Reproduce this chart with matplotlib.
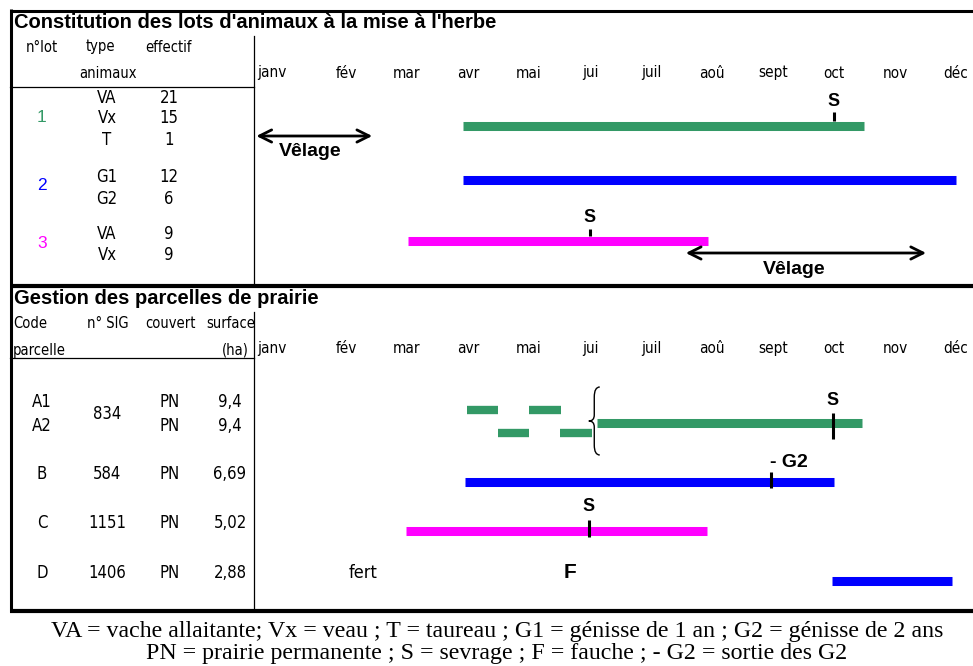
import matplotlib.pyplot as plt
from matplotlib.path import Path
from matplotlib.patches import PathPatch

# Data

months = ["janv", "fév", "mar", "avr", "mai", "jui", "juil", "aoû", "sept", "oct", "nov", "déc"]

# lots d'animaux
lot_ids = ["1", "2", "3"]
lot_colors = ["#339966", "#0000ff", "#ff00ff"]
lot_types = [["VA", "Vx", "T"], ["G1", "G2"], ["VA", "Vx"]]
lot_counts = [["21", "15", "1"], ["12", "6"], ["9", "9"]]
lot_start = [2.92, 2.92, 2.02]
lot_end = [9.49, 11.0, 6.93]
lot_sevrage = [9.0, None, 5.0]
velage = [(-0.47, 1.43), (6.57, 10.51)]

# parcelles
parc_codes = [["A1", "A2"], ["B"], ["C"], ["D"]]
parc_sig = ["834", "584", "1151", "1406"]
parc_couvert = [["PN", "PN"], ["PN"], ["PN"], ["PN"]]
parc_surface = [["9,4", "9,4"], ["6,69"], ["5,02"], ["2,88"]]
a1_dashes = [(2.98, 3.49), (4.0, 4.52)]
a2_dashes = [(3.49, 4.0), (4.51, 5.03)]
a_bar = (5.11, 9.46)
a_sevrage = 8.98
b_bar = (2.95, 9.0)
b_sortie_g2 = 7.97
c_bar = (1.98, 6.92)
c_sevrage = 4.98
d_bar = (8.97, 10.93)
d_fert = 1.28
d_fauche = 4.67

legend_lines = [
    "VA = vache allaitante; Vx = veau ; T = taureau ; G1 = génisse de 1 an ; G2 = génisse de 2 ans",
    "PN = prairie permanente ; S = sevrage ; F = fauche ; - G2 = sortie des G2",
]

NARROW = dict(family=["DejaVu Sans"], fontstretch="condensed")
BOLD = dict(family=["Liberation Sans", "DejaVu Sans"], fontweight="bold")
SERIF = dict(family=["Liberation Serif", "DejaVu Serif"])

W, H = 973, 666
fig = plt.figure(figsize=(W / 100, H / 100), dpi=100)

# background axes in pixel units for frame and tables
bg = fig.add_axes([0, 0, 1, 1])
bg.set_xlim(0, W)
bg.set_ylim(H, 0)
bg.axis("off")

bg.plot([10, W], [10.5, 10.5], color="black", lw=2.2, solid_capstyle="butt")
bg.plot([10, W], [286, 286], color="black", lw=3, solid_capstyle="butt")
bg.plot([10, W], [611, 611], color="black", lw=3, solid_capstyle="butt")
bg.plot([10.5, 10.5], [9, 612], color="black", lw=2.2, solid_capstyle="butt")
bg.plot([254, 254], [36, 285], color="black", lw=0.9)
bg.plot([254, 254], [312, 610], color="black", lw=0.9)
bg.plot([10, 254], [87, 87], color="black", lw=0.9)
bg.plot([10, 254], [358, 358], color="black", lw=0.9)

# top table
bg.text(14, 23, "Constitution des lots d'animaux à la mise à l'herbe",
        fontsize=14.5, va="center", ha="left", **BOLD)
bg.text(42, 47, "n°lot", fontsize=10.5, ha="center", va="center", **NARROW)
bg.text(100, 47, "type", fontsize=10.5, ha="center", va="center", **NARROW)
bg.text(169, 47, "effectif", fontsize=10.5, ha="center", va="center", **NARROW)
bg.text(108, 73, "animaux", fontsize=10.5, ha="center", va="center", **NARROW)

lot_rows = [[98, 118, 140], [177, 199], [234, 255]]
lot_id_y = [118, 186, 243]
for i in range(len(lot_ids)):
    bg.text(42, lot_id_y[i], lot_ids[i], color=lot_colors[i], fontsize=12.5,
            ha="center", va="center", family=["Liberation Sans", "DejaVu Sans"])
    for t, c, y in zip(lot_types[i], lot_counts[i], lot_rows[i]):
        bg.text(107, y, t, fontsize=12, ha="center", va="center", **NARROW)
        bg.text(169, y, c, fontsize=12, ha="center", va="center", **NARROW)

# bottom table
bg.text(14, 299, "Gestion des parcelles de prairie",
        fontsize=14.5, va="center", ha="left", **BOLD)
bg.text(13, 324, "Code", fontsize=10.5, ha="left", va="center", **NARROW)
bg.text(108, 324, "n° SIG", fontsize=10.5, ha="center", va="center", **NARROW)
bg.text(170, 324, "couvert", fontsize=10.5, ha="center", va="center", **NARROW)
bg.text(231, 324, "surface", fontsize=10.5, ha="center", va="center", **NARROW)
bg.text(13, 350, "parcelle", fontsize=10.5, ha="left", va="center", **NARROW)
bg.text(249, 350, "(ha)", fontsize=10.5, ha="right", va="center", **NARROW)

parc_rows = [[402, 426], [474], [523], [573]]
for i in range(len(parc_sig)):
    ys = parc_rows[i]
    for code, cov, surf, y in zip(parc_codes[i], parc_couvert[i], parc_surface[i], ys):
        bg.text(42, y, code, fontsize=12, ha="center", va="center", **NARROW)
        bg.text(170, y, cov, fontsize=12, ha="center", va="center", **NARROW)
        bg.text(230, y, surf, fontsize=12, ha="center", va="center", **NARROW)
    bg.text(107, sum(ys) / len(ys), parc_sig[i], fontsize=12,
            ha="center", va="center", **NARROW)

for i, line in enumerate(legend_lines):
    bg.text(497, 632 + 22 * i, line, fontsize=17.2, ha="center", va="center", **SERIF)


# timeline axes: x in month index, y in pixel rows
def timeline(top, bottom):
    ax = fig.add_axes([254 / W, (H - bottom) / H, (W - 254) / W, (bottom - top) / H])
    ax.set_xlim((254 - 285) / 61, (W - 285) / 61)
    ax.set_ylim(bottom, top)
    ax.axis("off")
    return ax


def bar(ax, x0, x1, y, color, lw=6.5):
    ax.plot([x0, x1], [y, y], color=color, lw=lw, solid_capstyle="butt")


def mark(ax, x, y0, y1, label, ly):
    ax.plot([x, x], [y0, y1], color="black", lw=2.2, solid_capstyle="butt")
    ax.text(x, ly, label, fontsize=13, ha="center", va="center", **BOLD)


def month_labels(ax, y):
    for i, m in enumerate(months):
        if i == 0:
            ax.text(-0.45, y, m, fontsize=11, ha="left", va="center", **NARROW)
        else:
            ax.text(i, y, m, fontsize=11, ha="center", va="center", **NARROW)


top = timeline(12, 285)
month_labels(top, 73)
lot_y = [125.5, 180, 240.5]
for i in range(len(lot_ids)):
    bar(top, lot_start[i], lot_end[i], lot_y[i], lot_colors[i])
mark(top, lot_sevrage[0], 112, 121, "S", 102)
mark(top, lot_sevrage[2], 229, 236, "S", 218)

velage_y = [136, 253]
velage_text = [(310 - 285) / 61, (794 - 285) / 61]
velage_ty = [151, 269]
for (v0, v1), y, tx, ty in zip(velage, velage_y, velage_text, velage_ty):
    top.annotate("", xy=(v1, y), xytext=(v0, y),
                 arrowprops=dict(arrowstyle="<->", lw=2, color="black", mutation_scale=22,
                                 shrinkA=0, shrinkB=0))
    top.text(tx, ty, "Vêlage", fontsize=14, ha="center", va="center", **BOLD)

low = timeline(288, 610)
month_labels(low, 349)
green = lot_colors[0]
for x0, x1 in a1_dashes:
    bar(low, x0, x1, 410.5, green, lw=6)
for x0, x1 in a2_dashes:
    bar(low, x0, x1, 433, green, lw=6)
bar(low, a_bar[0], a_bar[1], 423.5, green)
mark(low, a_sevrage, 413, 439, "S", 401)

# brace
bx, bw = 4.98, 0.18
yt, yb = 387, 455
ym = (yt + yb) / 2
verts = [
    (bx + bw, yt), (bx + bw / 2, yt), (bx + bw / 2, yt + 10),
    (bx + bw / 2, ym - 6), (bx + bw / 2, ym), (bx, ym),
    (bx + bw / 2, ym), (bx + bw / 2, ym + 6),
    (bx + bw / 2, yb - 10), (bx + bw / 2, yb), (bx + bw, yb),
]
codes = [Path.MOVETO, Path.CURVE3, Path.CURVE3, Path.LINETO, Path.CURVE3, Path.CURVE3,
         Path.CURVE3, Path.CURVE3, Path.LINETO, Path.CURVE3, Path.CURVE3]
low.add_patch(PathPatch(Path(verts, codes), fill=False, lw=1, color="black"))

bar(low, b_bar[0], b_bar[1], 482, lot_colors[1])
mark(low, b_sortie_g2, 472, 488, "", 463)
low.text(b_sortie_g2 - 0.02, 463, "- G2", fontsize=14, ha="left", va="center", **BOLD)

bar(low, c_bar[0], c_bar[1], 531.5, lot_colors[2])
mark(low, c_sevrage, 520, 537, "S", 507)

low.text(d_fert, 573, "fert", fontsize=13, ha="center", va="center", **NARROW)
low.text(d_fauche, 573, "F", fontsize=15, ha="center", va="center", **BOLD)
bar(low, d_bar[0], d_bar[1], 581, lot_colors[1])

fig.savefig("out.png", dpi=100)
